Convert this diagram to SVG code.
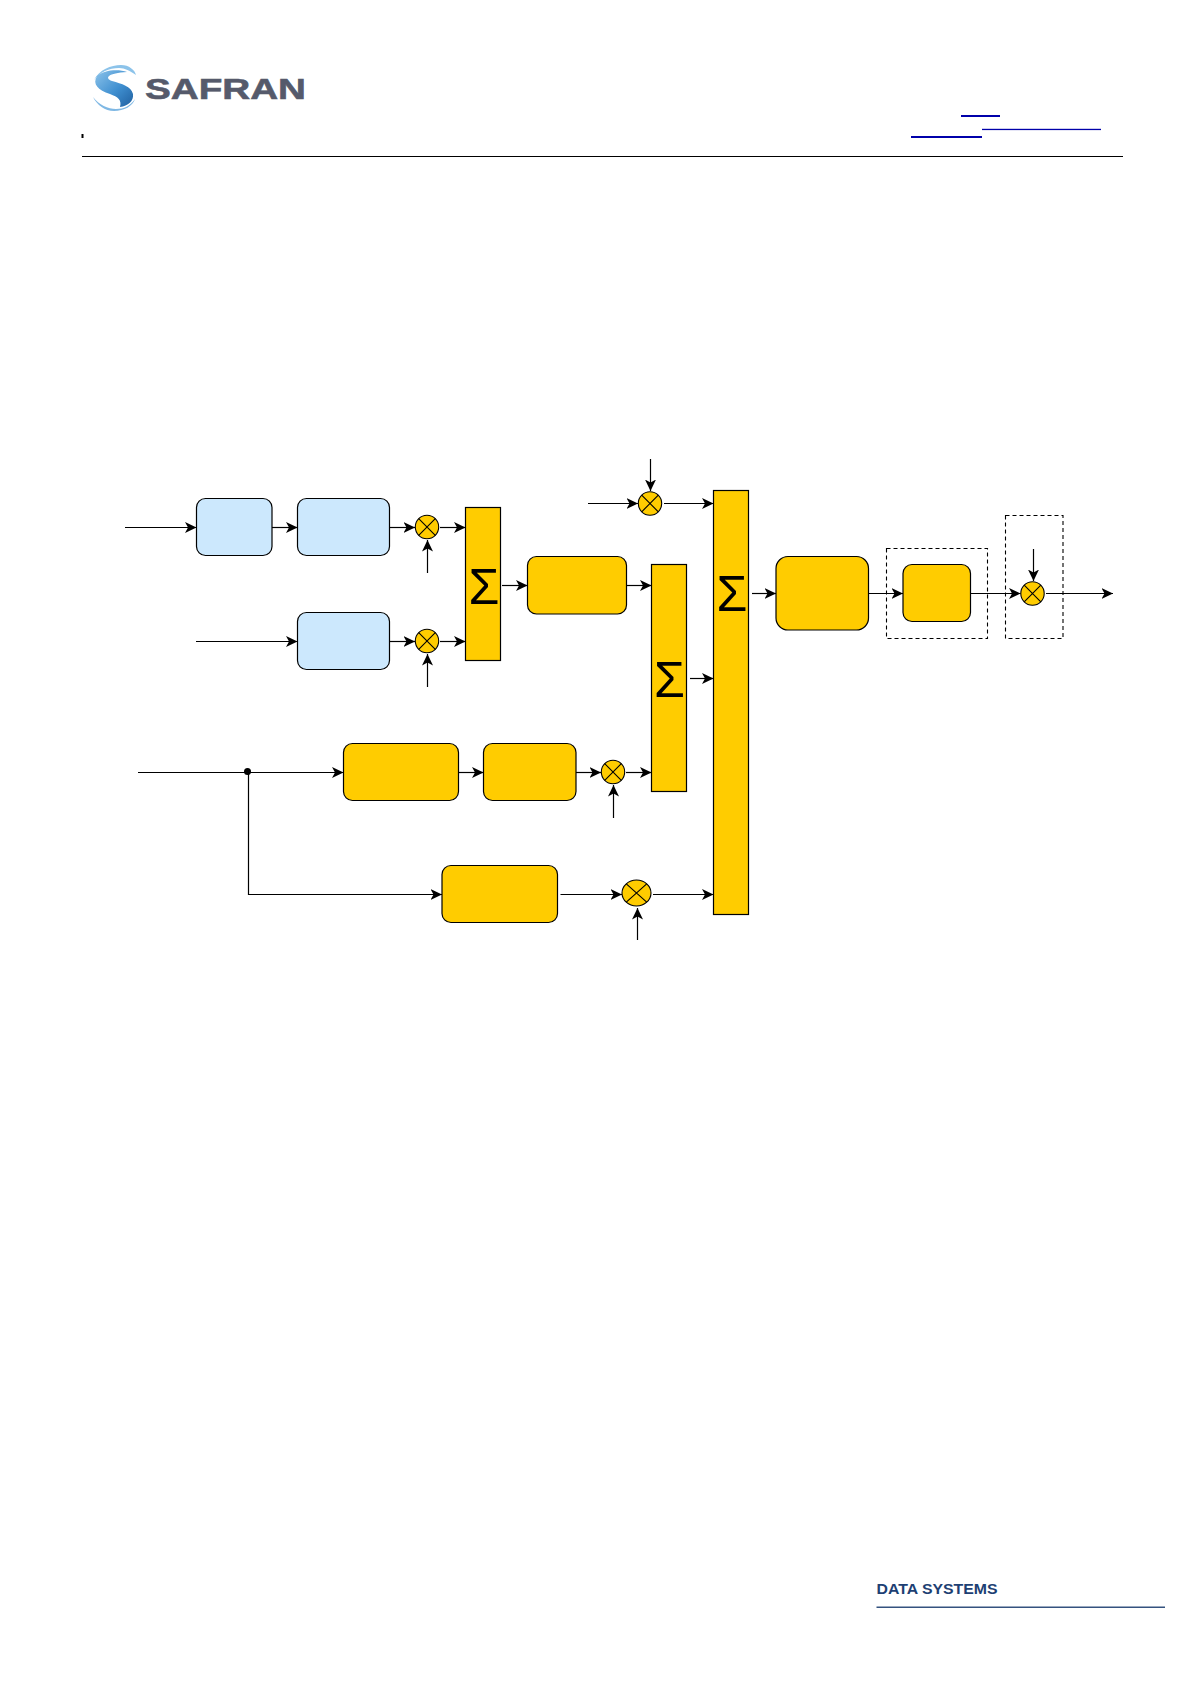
<svg xmlns="http://www.w3.org/2000/svg" width="1191" height="1684" viewBox="0 0 1191 1684">
<style>
.b{fill:#cce8fd;stroke:#000;stroke-width:1.2}
.y{fill:#ffcc00;stroke:#000;stroke-width:1.2}
.m{fill:#ffcc00;stroke:#000;stroke-width:1.1}
.x{fill:none;stroke:#000;stroke-width:1.1}
.s{font-family:"Liberation Sans",Arial,sans-serif;font-size:50px;text-anchor:middle;fill:#000}
.d{fill:none;stroke:#000;stroke-width:1.1;stroke-dasharray:4 3}
#connectors path{fill:none;stroke:#000;stroke-width:1.2;marker-end:url(#a)}
</style>
<defs>
<marker id="a" markerUnits="userSpaceOnUse" markerWidth="12" markerHeight="12" refX="11.500" refY="6" orient="auto">
<path d="M0 .5L11.500 6L0 11.500L3 6Z" fill="#000"/>
</marker>
<linearGradient id="sg" x1="0" y1="0" x2="1" y2="1">
<stop offset="0" stop-color="#8cc3ea"/><stop offset=".55" stop-color="#3f8fd0"/><stop offset="1" stop-color="#1f5f9f"/>
</linearGradient>
</defs>
<rect width="1191" height="1684" fill="#fff"/>

<g id="header">
<path d="M94 80C99 70 111 65 121 65C129 65 135 70 136 75C130 71 125 68 119 68C109 68 100 72 94 80Z" fill="#8cc3ea"/>
<path d="M93 97C99 105 108 109 116 109C124 109 130 106 135 99C133 106 124 111 114 111C105 111 97 105 93 97Z" fill="#7fb8e4"/>
<path d="M127 72C118 69 104 70 97 76C92 84 98 90 110 94C118 97 122 100 120 107C128 106 134 101 133 94C131 86 122 84 112 81C104 78 108 73 127 72Z" fill="url(#sg)"/>
<text x="145" y="99" font-family="'Liberation Sans',Arial,sans-serif" font-weight="700" font-size="30" fill="#555a6b" stroke="#555a6b" stroke-width=".6" textLength="161" lengthAdjust="spacingAndGlyphs">SAFRAN</text>
<rect x="81.500" y="134" width="2" height="4" fill="#000"/>
<rect x="961" y="115" width="39" height="2" fill="#0000aa"/>
<rect x="982" y="128.800" width="119" height="1.300" fill="#0000aa"/>
<rect x="911" y="136" width="71" height="2" fill="#0000aa"/>
<rect x="82" y="156" width="1041" height="1" fill="#000"/>
</g>

<g id="nodes">
<g id="box-a"><rect class="b" x="196.500" y="498.500" width="75.500" height="57" rx="9"/></g>
<g id="box-b"><rect class="b" x="297.500" y="498.500" width="92" height="57" rx="9"/></g>
<g id="box-c"><rect class="b" x="297.500" y="612.500" width="92" height="57" rx="9"/></g>
<g id="mul-1"><circle class="m" cx="427" cy="527" r="11.700"/><path class="x" d="M418.700 518.700L435.300 535.300M435.300 518.700L418.700 535.300"/></g>
<g id="mul-2"><circle class="m" cx="427" cy="641" r="11.700"/><path class="x" d="M418.700 632.700L435.300 649.300M435.300 632.700L418.700 649.300"/></g>
<g id="sum-1"><rect class="y" x="465.500" y="507.500" width="35" height="153"/><text class="s" x="484" y="604">Σ</text></g>
<g id="box-d"><rect class="y" x="527.500" y="556.500" width="99" height="57.500" rx="9"/></g>
<g id="mul-top"><circle class="m" cx="650" cy="503.500" r="11.700"/><path class="x" d="M641.700 495.200L658.300 511.800M658.300 495.200L641.700 511.800"/></g>
<g id="sum-2"><rect class="y" x="651.500" y="564.500" width="35" height="227"/><text class="s" x="669.500" y="697">Σ</text></g>
<g id="sum-3"><rect class="y" x="713.500" y="490.500" width="35" height="424"/><text class="s" x="732" y="611">Σ</text></g>
<g id="box-e"><rect class="y" x="776" y="556.500" width="92.500" height="73.500" rx="12"/></g>
<g id="box-f"><rect class="d" x="886.500" y="548.500" width="101" height="90"/><rect class="y" x="903" y="564.500" width="67.500" height="57" rx="9"/></g>
<g id="mul-out"><rect class="d" x="1005.500" y="515.500" width="57.500" height="123"/><circle class="m" cx="1032.500" cy="593.500" r="11.700"/><path class="x" d="M1024.200 585.200L1040.800 601.800M1040.800 585.200L1024.200 601.800"/></g>
<g id="box-g"><rect class="y" x="343.500" y="743.500" width="115" height="57" rx="9"/></g>
<g id="box-h"><rect class="y" x="483.500" y="743.500" width="92.500" height="57" rx="9"/></g>
<g id="mul-3"><circle class="m" cx="613" cy="772" r="11.700"/><path class="x" d="M604.700 763.700L621.300 780.300M621.300 763.700L604.700 780.300"/></g>
<g id="box-k"><rect class="y" x="442" y="865.500" width="115.500" height="57" rx="9"/></g>
<g id="mul-4"><ellipse class="m" cx="636.500" cy="893" rx="14.500" ry="13"/><path class="x" d="M626.300 883.800L646.700 902.200M646.700 883.800L626.300 902.200"/></g>
<g id="junction"><circle cx="247.500" cy="771.500" r="3.500" fill="#000"/></g>
</g>

<g id="connectors">
<path d="M125 527.500H196.500"/>
<path d="M272 527.500H297.500"/>
<path d="M389.500 527.500H415"/>
<path d="M440 527.500H465.500"/>
<path d="M427.500 573V540"/>
<path d="M196 641.500H297.500"/>
<path d="M389.500 641.500H415"/>
<path d="M440 641.500H465.500"/>
<path d="M427.500 687V654"/>
<path d="M502 585.500H527.500"/>
<path d="M627 585.500H651.500"/>
<path d="M588 503.500H638"/>
<path d="M650.500 459V491"/>
<path d="M664 503.500H713.500"/>
<path d="M690 678.500H713.500"/>
<path d="M752 593.500H776"/>
<path d="M868.500 593.500H903"/>
<path d="M970.500 593.500H1020.500"/>
<path d="M1033.500 549V581"/>
<path d="M1046 593.500H1113"/>
<path d="M138 772.500H343.500"/>
<path d="M248.500 772.500V894.500H442"/>
<path d="M458.500 772.500H483.500"/>
<path d="M576 772.500H601"/>
<path d="M626 772.500H651.500"/>
<path d="M613.500 818V785"/>
<path d="M560.500 894.500H622"/>
<path d="M653 894.500H713.500"/>
<path d="M637.500 940V908"/>
</g>

<g id="footer">
<text x="876.500" y="1593.500" font-family="'Liberation Sans',Arial,sans-serif" font-weight="700" font-size="14.500" fill="#1d3f73" textLength="121" lengthAdjust="spacingAndGlyphs">DATA SYSTEMS</text>
<rect x="876.500" y="1606.500" width="288.500" height="1.500" fill="#34527f"/>
</g>
</svg>
